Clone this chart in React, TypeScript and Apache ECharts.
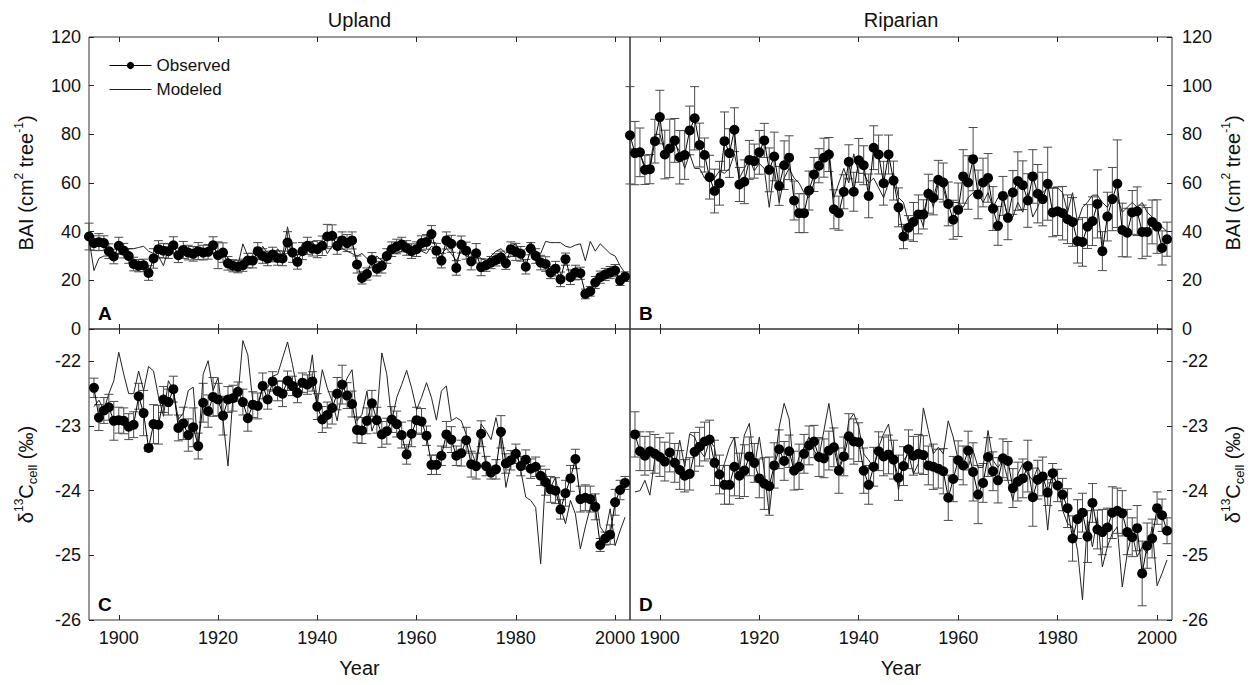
import React, { useEffect, useRef } from "react";
import * as echarts from "echarts";

const FONT = '"Liberation Sans", Arial, Helvetica, sans-serif';

const yearRange = (a: number, b: number) => {
  const out: number[] = [];
  for (let y = a; y <= b; y++) out.push(y);
  return out;
};

// Years
const yearsBAI = yearRange(1894, 2002);
const yearsD13C = yearRange(1895, 2002);
const yearTicks = [1900, 1920, 1940, 1960, 1980, 2000];
const d13cTicks = [-26, -25, -24, -23, -22];

// Panel A: Upland BAI
const uplandBaiObs = [
  38, 35.3, 35.7, 35.3, 32, 29.8, 34.2, 32.2, 30, 26.7,
  26, 26.2, 23, 29, 32.8, 32.2, 32, 34.4, 30.3, 32.5,
  31.4, 30.9, 32, 31.4, 31.7, 34.4, 30.3, 31.4, 27, 26,
  25.6, 26.2, 28.1, 28.1, 32, 30, 29, 30.6, 29.2, 29,
  35.5, 31.4, 27.6, 32, 34.2, 33, 32.8, 34.2, 38, 38.3,
  34.2, 36.4, 35.3, 36.4, 26.5, 21, 22.6, 28.4, 24.8, 26,
  30, 32.8, 33.9, 34.7, 33.3, 32, 32.8, 35.3, 35.8, 39,
  32.2, 28.1, 36.4, 35, 25.1, 34.7, 32.2, 27.8, 31.1, 25.4,
  26.2, 27.3, 28.4, 29.5, 27, 32.8, 31.7, 30.9, 25.6, 33,
  30, 27.3, 26.7, 23.2, 24.8, 20.4, 28.7, 21.3, 23.2, 22.9,
  14.4, 15.5, 19.1, 21.3, 22.4, 23.2, 24, 19.9, 21.5,
];
const uplandBaiErr = [
  5.5, 3, 3.5, 3, 3, 3, 3.5, 3, 3, 2.8,
  2.5, 2.5, 3, 4, 3.5, 3, 3, 3.5, 3, 3.5,
  3, 3, 3.5, 3, 3, 3.5, 5.5, 4, 2.8, 2.5,
  2.5, 2.5, 3, 3, 3.5, 3, 3, 3, 3, 3,
  4.5, 4, 3, 3.5, 3.5, 3, 3.5, 4, 5, 4.5,
  3.5, 3.5, 3.5, 3.5, 3.5, 2.5, 2.5, 3, 3, 3,
  3, 3, 3, 3, 3, 3, 3, 3, 3, 3.5,
  3, 3, 3.5, 3.5, 3, 3.5, 3.5, 3.5, 4, 3.5,
  2.5, 2.5, 2.5, 2.5, 2.5, 3, 3.5, 3, 3, 2.5,
  3, 3, 3, 2.5, 3, 3, 2.5, 3, 3, 2.5,
  2, 2, 2.5, 2.5, 2.5, 2.5, 2.5, 2, 2,
];
const uplandBaiMod = [
  37, 24, 29, 30, 30, 30, 31, 31, 33, 33,
  33.5, 34, 32, 31, 30, 26, 33, 31, 32, 30,
  31, 32, 30, 31, 32, 31, 30, 32, 29, 27,
  26, 35, 30, 28, 30, 34, 31, 29, 33, 30,
  42, 32, 30, 35, 33, 36, 32, 36, 31, 34,
  32, 33, 32, 31, 30, 31, 29, 26, 30, 28,
  28, 32, 31, 32, 33, 31, 32, 32, 31, 34,
  33, 31, 33, 31, 28, 32, 30, 29, 31, 29,
  28, 30, 32, 33, 31, 34, 35, 31, 33, 35.7,
  32, 31, 36, 35.5, 35.5, 35.5, 34, 33.5, 34.5, 35,
  28, 36, 32, 35, 33, 31, 30, 26, 23,
];

// Panel B: Riparian BAI
const riparianBaiObs = [
  79.6, 72.3, 72.6, 65.4, 65.7, 77.2, 87.1, 71.7, 74.2, 77.5,
  70.6, 71.5, 81.6, 86.6, 75.6, 71.5, 62.4, 56.7, 59.9, 77.2,
  72.3, 81.9, 59.4, 60.5, 69.5, 69, 72.6, 77.5, 65.4, 70.9,
  58.8, 67.3, 70.4, 52.8, 47.6, 47.6, 56.9, 63.5, 67.1, 70.4,
  71.7, 49.2, 47.6, 56.4, 68.7, 56.4, 69.3, 67.3, 54.7, 74.5,
  71.7, 59.9, 71.7, 61, 50, 38, 41.6, 44, 47.1, 47.1,
  55.6, 53.9, 61.3, 60.2, 51.4, 44.9, 49, 62.7, 60.2, 69.8,
  55.3, 60.2, 62.1, 49.5, 42.4, 54.7, 45.7, 56.1, 60.8, 59.1,
  52.8, 62.7, 55.6, 53.4, 59.7, 47.9, 48.4, 47.6, 45.1, 44,
  36.1, 35.8, 42.1, 44.3, 51.4, 32, 46.2, 53.4, 59.7, 40.7,
  39.6, 47.9, 48.4, 39.9, 39.9, 44, 42.1, 33.3, 36.9,
];
const riparianBaiErr = [
  20, 13, 10, 6, 6, 9, 11, 10, 12, 9,
  11, 10, 10, 13, 9, 7, 9, 9, 9, 12,
  10, 9, 7, 9, 8, 7, 9, 7, 9, 10,
  8, 10, 9, 8, 8, 8, 8, 7, 7, 8,
  7, 8, 7, 7, 7, 8, 9, 8, 9, 9,
  8, 9, 8, 8, 8, 5, 5, 8, 8, 6,
  8, 7, 8, 8, 9, 8, 11, 11, 11, 13,
  10, 10, 10, 9, 8, 8, 9, 9, 12, 10,
  11, 11, 12, 11, 15, 10, 10, 11, 10, 10,
  9, 10, 9, 10, 14, 8, 10, 13, 18, 11,
  10, 9, 10, 11, 10, 9, 11, 7, 7,
];
const riparianBaiMod = [
  74, 74, 72, 67, 67, 80, 80, 73, 74, 76,
  73, 66, 72, 66, 66, 62, 64, 62, 65, 64,
  66, 72, 62, 66, 70, 65, 68, 66, 50, 66,
  52, 62, 66, 62, 60, 56, 54, 60, 68, 72,
  74, 54, 60, 66, 60, 72, 64, 64, 60, 62,
  58, 54, 60, 64, 54, 52, 44, 46, 48, 42,
  58, 50, 60, 58, 50, 52, 52, 50, 54, 56,
  56, 52, 56, 50, 54, 54, 46, 46, 52, 48,
  56, 46, 50, 56, 58, 58, 58, 56, 48, 56,
  44, 50, 52, 55, 55, 52, 50, 54, 54, 48,
  50, 52, 50, 52, 48, 46, 44, 42, 40,
];

// Panel C: Upland d13C
const uplandD13cObs = [
  -22.41, -22.87, -22.76, -22.71, -22.92, -22.91, -22.92, -23.01, -22.98, -22.54,
  -22.8, -23.34, -22.97, -22.98, -22.59, -22.63, -22.43, -23.03, -22.96, -23.14,
  -23.02, -23.31, -22.64, -22.77, -22.55, -22.59, -22.84, -22.59, -22.57, -22.47,
  -22.63, -22.88, -22.67, -22.69, -22.38, -22.59, -22.31, -22.46, -22.5, -22.3,
  -22.38, -22.49, -22.33, -22.36, -22.31, -22.7, -22.9, -22.83, -22.72, -22.5,
  -22.36, -22.53, -22.66, -23.06, -23.07, -22.92, -22.65, -22.91, -23.13, -23.08,
  -22.9, -22.97, -23.14, -23.44, -23.12, -22.91, -22.93, -23.15, -23.6, -23.6,
  -23.46, -23.13, -23.21, -23.46, -23.42, -23.22, -23.59, -23.62, -23.12, -23.62,
  -23.72, -23.67, -23.09, -23.58, -23.53, -23.43, -23.62, -23.52, -23.66, -23.63,
  -23.77, -23.87, -23.98, -24.0, -24.29, -24.04, -23.81, -23.51, -24.13, -24.11,
  -24.13, -24.25, -24.84, -24.74, -24.68, -24.18, -23.99, -23.88,
];
const uplandD13cErr = [
  0.15, 0.2, 0.2, 0.2, 0.3, 0.2, 0.2, 0.2, 0.2, 0.2,
  0.35, 0.05, 0.3, 0.3, 0.2, 0.2, 0.2, 0.2, 0.25, 0.25,
  0.3, 0.2, 0.3, 0.25, 0.3, 0.25, 0.3, 0.2, 0.2, 0.15,
  0.2, 0.2, 0.2, 0.2, 0.2, 0.15, 0.15, 0.15, 0.2, 0.15,
  0.15, 0.15, 0.15, 0.15, 0.15, 0.2, 0.2, 0.2, 0.25, 0.25,
  0.3, 0.2, 0.2, 0.2, 0.2, 0.2, 0.2, 0.2, 0.2, 0.2,
  0.2, 0.2, 0.2, 0.15, 0.2, 0.2, 0.2, 0.15, 0.15, 0.15,
  0.15, 0.2, 0.2, 0.15, 0.2, 0.2, 0.2, 0.2, 0.2, 0.15,
  0.1, 0.15, 0.25, 0.15, 0.15, 0.15, 0.15, 0.15, 0.15, 0.15,
  0.15, 0.2, 0.2, 0.2, 0.15, 0.2, 0.2, 0.15, 0.2, 0.2,
  0.2, 0.2, 0.1, 0.1, 0.15, 0.2, 0.15, 0.1,
];
const uplandD13cMod = [
  -22.7, -22.6, -22.75, -22.5, -22.3, -21.86, -22.2, -22.5, -22.5, -22.15,
  -22.45, -22.08, -22.15, -22.55, -22.85, -22.3, -22.45, -22.9, -22.8, -22.45,
  -22.4, -23.38, -22.2, -21.99, -22.45, -22.25, -22.9, -23.62, -22.55, -22.55,
  -21.68, -21.9, -22.62, -22.67, -22.41, -22.41, -22.23, -22.2, -21.95, -21.7,
  -22.05, -22.46, -22.3, -22.41, -21.9, -22.67, -22.13, -22.41, -22.62, -22.92,
  -22.46, -22.26, -22.13, -22.92, -22.82, -22.46, -23.08, -22.87, -21.87, -22.2,
  -22.92, -22.56, -22.36, -22.14, -22.41, -22.75, -22.56, -22.33, -22.56, -22.91,
  -22.46, -22.38, -22.92, -22.87, -22.92, -23.13, -23.38, -23.59, -22.97, -23.08,
  -23.21, -22.87, -23.23, -23.95, -23.59, -23.33, -23.69, -24.1, -24.15, -24.26,
  -25.13, -23.74, -23.95, -23.79, -24.26, -24.51, -24.15, -24.36, -24.9, -24.56,
  -24.26, -24.05, -24.56, -24.67, -24.28, -24.85, -24.62, -24.41,
];

// Panel D: Riparian d13C
const riparianD13cObs = [
  -23.13, -23.39, -23.46, -23.39, -23.43, -23.48, -23.55, -23.41, -23.57, -23.68,
  -23.77, -23.74, -23.4, -23.32, -23.24, -23.21, -23.57, -23.75, -23.91, -23.91,
  -23.63, -23.77, -23.69, -23.47, -23.57, -23.81, -23.89, -23.93, -23.61, -23.36,
  -23.54, -23.39, -23.69, -23.63, -23.43, -23.3, -23.24, -23.48, -23.5, -23.38,
  -23.33, -23.69, -23.47, -23.16, -23.24, -23.25, -23.69, -23.91, -23.63, -23.39,
  -23.47, -23.44, -23.52, -23.8, -23.62, -23.36, -23.46, -23.43, -23.45, -23.61,
  -23.63, -23.66, -23.7, -24.11, -23.82, -23.53, -23.61, -23.38, -23.71, -24.06,
  -23.88, -23.48, -23.7, -23.84, -23.5, -23.54, -23.96, -23.86, -23.81, -23.62,
  -24.1, -23.83, -23.78, -24.03, -23.73, -23.92, -24.06, -24.27, -24.74, -24.44,
  -24.34, -24.71, -24.19, -24.6, -24.64, -24.57, -24.34, -24.31, -24.35, -24.64,
  -24.72, -24.58, -25.28, -24.85, -24.74, -24.27, -24.38, -24.62,
];
const riparianD13cErr = [
  0.35, 0.3, 0.3, 0.3, 0.3, 0.3, 0.3, 0.3, 0.3, 0.3,
  0.25, 0.25, 0.3, 0.3, 0.3, 0.3, 0.35, 0.3, 0.3, 0.3,
  0.45, 0.35, 0.4, 0.3, 0.3, 0.3, 0.4, 0.45, 0.35, 0.3,
  0.3, 0.25, 0.3, 0.35, 0.3, 0.3, 0.25, 0.3, 0.3, 0.3,
  0.3, 0.35, 0.3, 0.35, 0.35, 0.3, 0.35, 0.3, 0.3, 0.3,
  0.3, 0.3, 0.3, 0.35, 0.3, 0.3, 0.3, 0.3, 0.3, 0.3,
  0.35, 0.3, 0.35, 0.35, 0.35, 0.3, 0.3, 0.3, 0.45, 0.45,
  0.3, 0.3, 0.3, 0.35, 0.3, 0.3, 0.3, 0.3, 0.3, 0.4,
  0.45, 0.3, 0.3, 0.2, 0.15, 0.25, 0.25, 0.3, 0.35, 0.3,
  0.3, 0.4, 0.3, 0.3, 0.35, 0.3, 0.4, 0.35, 0.35, 0.35,
  0.3, 0.35, 0.5, 0.35, 0.3, 0.25, 0.25, 0.2,
];
const riparianD13cMod = [
  -24.02, -24.0, -23.84, -24.07, -23.5, -23.4, -23.55, -23.4, -23.66, -23.22,
  -23.63, -23.12, -23.17, -23.38, -23.48, -23.22, -23.33, -23.79, -23.58, -23.33,
  -23.17, -23.69, -23.14, -22.96, -23.64, -23.17, -23.69, -24.36, -23.64, -23.02,
  -22.65, -22.89, -23.74, -23.48, -23.33, -23.17, -23.38, -23.48, -23.07, -22.65,
  -23.17, -23.64, -23.43, -22.92, -22.81, -23.02, -23.43, -23.53, -23.64, -23.33,
  -23.12, -22.97, -23.48, -23.99, -23.53, -23.43, -23.74, -23.58, -22.72, -23.07,
  -23.43, -23.33, -23.43, -22.92, -23.17, -23.53, -23.64, -23.64, -23.38, -23.64,
  -23.64, -23.07, -23.53, -23.64, -23.53, -23.84, -24.15, -23.74, -23.58, -23.74,
  -23.84, -23.64, -23.79, -24.61, -23.79, -23.89, -24.3, -24.51, -24.56, -24.92,
  -25.69, -24.46, -24.87, -24.41, -25.18, -24.87, -24.66, -24.56, -25.49, -24.97,
  -24.66, -25.02, -24.87, -24.97, -24.56, -25.47, -25.28, -25.07,
];

const panels = [
  { years: yearsBAI, obs: uplandBaiObs, err: uplandBaiErr, mod: uplandBaiMod },
  { years: yearsBAI, obs: riparianBaiObs, err: riparianBaiErr, mod: riparianBaiMod },
  { years: yearsD13C, obs: uplandD13cObs, err: uplandD13cErr, mod: uplandD13cMod },
  { years: yearsD13C, obs: riparianD13cObs, err: riparianD13cErr, mod: riparianD13cMod },
];

const panelTitles = ["Upland", "Riparian"];
const panelLetters = ["A", "B", "C", "D"];

const GRIDS = [
  { left: 89, top: 37, width: 541, height: 292 },
  { left: 630, top: 37, width: 542, height: 292 },
  { left: 89, top: 329, width: 541, height: 291 },
  { left: 630, top: 329, width: 542, height: 291 },
];

const TXT = "#111";
const LINE = "#222";

const baiName = "{n|BAI (cm}{sup|2}{n| tree}{sup|-1}{n|)}";
const d13cName = "{n|δ}{sup|13}{n|C}{sub|cell}{n| (‰)}";
const nameRich = {
  n: { fontSize: 20, fontFamily: FONT, color: TXT, lineHeight: 26 },
  sup: { fontSize: 12, fontFamily: FONT, color: TXT, verticalAlign: "top", lineHeight: 14 },
  sub: { fontSize: 13, fontFamily: FONT, color: TXT, verticalAlign: "bottom", lineHeight: 14 },
};

function errorRender(params: any, api: any) {
  const x = api.value(0);
  const y = api.value(1);
  const e = api.value(2);
  const top = api.coord([x, y + e]);
  const bot = api.coord([x, y - e]);
  const hw = 4.5;
  const style = { stroke: "#4a4a4a", lineWidth: 1 };
  return {
    type: "group",
    children: [
      { type: "line", shape: { x1: top[0], y1: top[1], x2: bot[0], y2: bot[1] }, style },
      { type: "line", shape: { x1: top[0] - hw, y1: top[1], x2: top[0] + hw, y2: top[1] }, style },
      { type: "line", shape: { x1: bot[0] - hw, y1: bot[1], x2: bot[0] + hw, y2: bot[1] }, style },
    ],
  };
}

export default function App() {
  const ref = useRef<HTMLDivElement>(null);
  useEffect(() => {
    document.body.style.margin = "0";
    if (!ref.current) return;
    const chart = echarts.init(ref.current, undefined, { renderer: "svg" });

    const xAxes: any[] = [];
    for (let i = 0; i < 4; i++) {
      const lower = i >= 2;
      xAxes.push({
        type: "value",
        gridIndex: i,
        position: "bottom",
        min: 1894,
        max: 2003,
        axisLine: { show: false },
        splitLine: { show: false },
        axisTick: { show: true, inside: true, length: 5, customValues: yearTicks, lineStyle: { color: LINE } },
        axisLabel: {
          show: lower,
          customValues: yearTicks,
          formatter: (v: number) => String(v),
          fontSize: 18,
          fontFamily: FONT,
          color: TXT,
          margin: 9,
        },
        name: lower ? "Year" : "",
        nameLocation: "middle",
        nameGap: 38,
        nameTextStyle: { fontSize: 20, fontFamily: FONT, color: TXT },
      });
    }
    for (let i = 0; i < 4; i++) {
      xAxes.push({
        type: "value",
        gridIndex: i,
        position: "top",
        min: 1894,
        max: 2003,
        axisLine: { show: false },
        splitLine: { show: false },
        axisTick: { show: true, inside: true, length: 5, customValues: yearTicks, lineStyle: { color: LINE } },
        axisLabel: { show: false },
      });
    }

    const yAxes: any[] = [];
    for (let i = 0; i < 4; i++) {
      const lower = i >= 2;
      const right = i % 2 === 1;
      const base: any = {
        type: "value",
        gridIndex: i,
        position: right ? "right" : "left",
        axisLine: { show: false },
        splitLine: { show: false },
        axisTick: { show: true, inside: true, length: 5, lineStyle: { color: LINE } },
        axisLabel: { fontSize: 18, fontFamily: FONT, color: TXT, margin: right ? 10 : 8 },
        name: lower ? d13cName : baiName,
        nameLocation: "middle",
        nameRotate: 90,
        nameGap: right ? 48 : 50,
        nameTextStyle: { rich: nameRich },
      };
      if (lower) {
        base.min = -26;
        base.max = -21.5;
        base.axisTick.customValues = d13cTicks;
        base.axisLabel.customValues = d13cTicks;
      } else {
        base.min = 0;
        base.max = 120;
        base.interval = 20;
      }
      yAxes.push(base);
    }

    const series: any[] = [];
    panels.forEach((p, i) => {
      series.push({
        type: "custom",
        xAxisIndex: i,
        yAxisIndex: i,
        data: p.years.map((y, k) => [y, p.obs[k], p.err[k]]),
        renderItem: errorRender,
        clip: false,
        silent: true,
        z: 2,
      });
      series.push({
        name: "Modeled",
        type: "line",
        xAxisIndex: i,
        yAxisIndex: i,
        data: p.years.map((y, k) => [y, p.mod[k]]),
        symbol: "none",
        lineStyle: { color: LINE, width: 1 },
        itemStyle: { color: LINE },
        z: 3,
      });
      series.push({
        name: "Observed",
        type: "line",
        xAxisIndex: i,
        yAxisIndex: i,
        data: p.years.map((y, k) => [y, p.obs[k]]),
        symbol: "circle",
        symbolSize: 10,
        showSymbol: true,
        itemStyle: { color: "#000" },
        lineStyle: { color: "#000", width: 1 },
        clip: false,
        z: 4,
      });
    });

    const graphics: any[] = [];
    panelTitles.forEach((t, i) => {
      const g = GRIDS[i];
      graphics.push({
        type: "text",
        x: g.left + g.width / 2,
        y: 20,
        style: {
          text: t,
          font: `20px ${FONT}`,
          fill: TXT,
          textAlign: "center",
          textVerticalAlign: "middle",
          align: "center",
          verticalAlign: "middle",
        },
      });
    });
    panelLetters.forEach((t, i) => {
      const g = GRIDS[i];
      graphics.push({
        type: "text",
        x: g.left + 9,
        y: g.top + g.height - 16,
        style: {
          text: t,
          font: `bold 19px ${FONT}`,
          fill: "#000",
          textAlign: "left",
          textVerticalAlign: "middle",
          align: "left",
          verticalAlign: "middle",
        },
      });
    });

    chart.setOption({
      animation: false,
      backgroundColor: "#fff",
      textStyle: { fontFamily: FONT },
      grid: GRIDS.map((g) => ({ ...g, show: true, borderColor: "#333", borderWidth: 1, backgroundColor: "transparent" })),
      xAxis: xAxes,
      yAxis: yAxes,
      legend: {
        data: [
          { name: "Observed", lineStyle: { width: 1, color: "#000" }, itemStyle: { color: "#000" } },
          { name: "Modeled", icon: "path://M0,0 L42,0 L42,1 L0,1 Z", itemStyle: { color: LINE } },
        ],
        orient: "vertical",
        left: 104,
        top: 52,
        itemWidth: 42,
        itemHeight: 9,
        itemGap: 7,
        selectedMode: false,
        textStyle: { fontSize: 17, fontFamily: FONT, color: TXT },
      },
      series,
      graphic: graphics,
    });
    return () => chart.dispose();
  }, []);
  return <div ref={ref} style={{ width: 1252, height: 685 }} />;
}
